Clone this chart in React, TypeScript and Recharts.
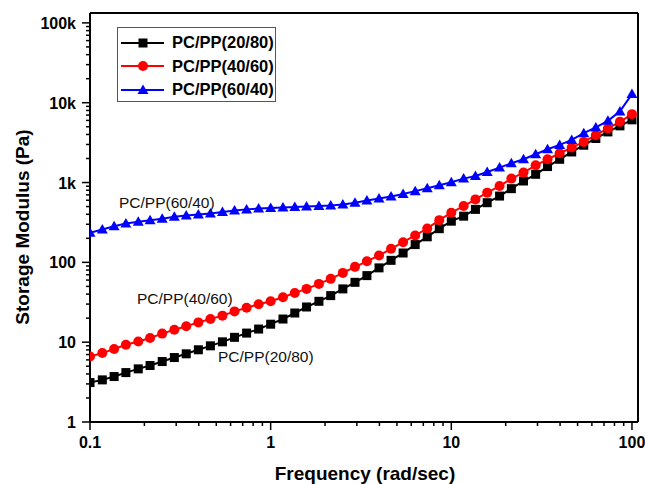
import { LineChart, Line, XAxis, YAxis, Legend, ReferenceLine, Label } from 'recharts'

// angular frequency (rad/sec), 15 points per decade
const frequency = [
  0.1, 0.117, 0.136, 0.158, 0.185, 0.215, 0.251, 0.293, 0.341, 0.398, 0.464, 0.541, 0.631, 0.736, 0.858,
  1, 1.17, 1.36, 1.58, 1.85, 2.15, 2.51, 2.93, 3.41, 3.98, 4.64, 5.41, 6.31, 7.36, 8.58,
  10, 11.7, 13.6, 15.8, 18.5, 21.5, 25.1, 29.3, 34.1, 39.8, 46.4, 54.1, 63.1, 73.6, 85.8, 100,
]

// storage modulus G' (Pa)
const pcpp2080 = [
  3.12, 3.37, 3.71, 4.16, 4.63, 5.1, 5.72, 6.42, 7.15, 8.03, 9.0, 10.1, 11.5, 13.0, 14.6,
  16.8, 19.5, 23.2, 27.6, 32.5, 38.3, 46.5, 56.2, 68.2, 85.3, 106, 131, 167, 209, 264,
  328, 379, 461, 559, 677, 838, 1045, 1268, 1585, 1955, 2415, 2933, 3563, 4306, 5128, 6100,
]
const pcpp4060 = [
  6.61, 7.3, 8.2, 9.27, 10.2, 11.3, 12.8, 14.3, 15.8, 17.7, 19.5, 21.5, 24.3, 27.0, 29.8,
  32.5, 36.5, 41.4, 46.5, 53.7, 62.1, 73.8, 87.8, 103, 122, 148, 179, 217, 266, 338,
  419, 507, 615, 747, 904, 1120, 1331, 1644, 1955, 2326, 2744, 3228, 3918, 4755, 5755, 7190,
]
const pcpp6040 = [
  235, 258, 284, 307, 323, 338, 352, 373, 387, 399, 410, 426, 447, 461, 472,
  480, 486, 493, 500, 507, 517, 532, 559, 595, 632, 670, 720, 780, 850, 925,
  1010, 1120, 1207, 1355, 1539, 1742, 1955, 2260, 2610, 2958, 3420, 4150, 4895, 5925, 7780, 12820,
]

const xMajor = [0.1, 1, 10, 100]
const yMajor = [1, 10, 100, 1000, 10000, 100000]
const yTickText = ['1', '10', '100', '1k', '10k', '100k']
const minorSteps = [2, 3, 4, 5, 6, 7, 8, 9]

const xDomain = [0.1, 108]
const yDomain = [1, 133000]

const xTicks = xMajor.flatMap((m, i) => (i < xMajor.length - 1 ? [m, ...minorSteps.map((s) => m * s)] : [m]))
const yTicks = yMajor.flatMap((m, i) => (i < yMajor.length - 1 ? [m, ...minorSteps.map((s) => m * s)] : [m]))

const series = [
  { key: 'a', name: 'PC/PP(20/80)', color: '#000000', shape: 'square', values: pcpp2080 },
  { key: 'b', name: 'PC/PP(40/60)', color: '#ff0000', shape: 'circle', values: pcpp4060 },
  { key: 'c', name: 'PC/PP(60/40)', color: '#0000ff', shape: 'triangle', values: pcpp6040 },
]

const data = frequency.map((f, i) => ({ freq: f, a: pcpp2080[i], b: pcpp4060[i], c: pcpp6040[i] }))

const isMajor = (list: number[], v: number) => list.findIndex((m) => Math.abs(m - v) / m < 1e-6)

function marker(shape: string, cx: number, cy: number, color: string, key?: string) {
  if (shape === 'square') return <rect key={key} x={cx - 4.5} y={cy - 4.5} width={9} height={9} fill={color} />
  if (shape === 'circle') return <circle key={key} cx={cx} cy={cy} r={5} fill={color} />
  return <path key={key} d={`M${cx},${cy - 5.5}L${cx + 5.5},${cy + 4}L${cx - 5.5},${cy + 4}Z`} fill={color} />
}

const XTick = (props: any) => {
  const { x, y, payload } = props
  const idx = isMajor(xMajor, payload.value)
  return (
    <g>
      <line x1={x} x2={x} y1={y} y2={y + (idx >= 0 ? 8 : 4)} stroke="#000" strokeWidth={1.5} />
      {idx >= 0 && (
        <text x={x} y={y + 26} textAnchor="middle" fontSize={16} fontWeight="bold" fill="#000">
          {String(xMajor[idx])}
        </text>
      )}
    </g>
  )
}

const YTick = (props: any) => {
  const { x, y, payload } = props
  const idx = isMajor(yMajor, payload.value)
  return (
    <g>
      <line x1={x - (idx >= 0 ? 8 : 4)} x2={x} y1={y} y2={y} stroke="#000" strokeWidth={1.5} />
      {idx >= 0 && (
        <text x={x - 14} y={y + 6} textAnchor="end" fontSize={16} fontWeight="bold" fill="#000">
          {yTickText[idx]}
        </text>
      )}
    </g>
  )
}

const LegendBox = () => (
  <div style={{ border: '1px solid #555', width: 157, height: 70, background: '#fff', paddingTop: 3 }}>
    {series.map((s) => (
      <div key={s.key} style={{ display: 'flex', alignItems: 'center', height: 23.5 }}>
        <svg width={54} height={20} style={{ flex: 'none' }}>
          <line x1={3} x2={46} y1={10} y2={10} stroke={s.color} strokeWidth={2} />
          {marker(s.shape, 25, 10, s.color)}
        </svg>
        <span style={{ fontWeight: 'bold', fontSize: 16.5, color: '#000', whiteSpace: 'nowrap' }}>{s.name}</span>
      </div>
    ))}
  </div>
)

const note = { position: 'absolute' as const, fontSize: 15.5, color: '#111', lineHeight: '16px', whiteSpace: 'nowrap' as const }

export default function App() {
  return (
    <div
      style={{
        position: 'absolute',
        left: 0,
        top: 0,
        width: 645,
        height: 484,
        background: '#fff',
        fontFamily: '"Liberation Sans", Arial, sans-serif',
      }}
    >
      <LineChart width={645} height={484} data={data} margin={{ top: 13, right: 7, bottom: 0, left: 0 }}>
        <XAxis
          dataKey="freq"
          type="number"
          scale="log"
          domain={xDomain}
          allowDataOverflow
          ticks={xTicks}
          interval={0}
          tick={XTick}
          tickSize={0}
          tickMargin={0}
          tickLine={false}
          axisLine={{ stroke: '#000', strokeWidth: 2 }}
          height={62}
        >
          <Label
            content={(p: any) => (
              <text
                x={p.viewBox.x + p.viewBox.width / 2 + 1}
                y={480}
                textAnchor="middle"
                fontSize={19}
                fontWeight="bold"
                fill="#000"
              >
                Frequency (rad/sec)
              </text>
            )}
          />
        </XAxis>
        <YAxis
          type="number"
          scale="log"
          domain={yDomain}
          allowDataOverflow
          ticks={yTicks}
          interval={0}
          tick={YTick}
          tickSize={0}
          tickMargin={0}
          tickLine={false}
          axisLine={{ stroke: '#000', strokeWidth: 2 }}
          width={90}
        >
          <Label
            content={() => (
              <text
                x={29}
                y={227}
                transform="rotate(-90 29 227)"
                textAnchor="middle"
                fontSize={19}
                fontWeight="bold"
                fill="#000"
              >
                Storage Modulus (Pa)
              </text>
            )}
          />
        </YAxis>
        <ReferenceLine x={xDomain[1]} stroke="#000" strokeWidth={2} />
        <ReferenceLine y={yDomain[1]} stroke="#000" strokeWidth={2} />
        {series.map((s) => (
          <Line
            key={s.key}
            dataKey={s.key}
            name={s.name}
            type="linear"
            stroke={s.color}
            strokeWidth={2}
            isAnimationActive={false}
            dot={(p: any) => marker(s.shape, p.cx, p.cy, s.color, `${s.key}-${p.index}`)}
            activeDot={false}
          />
        ))}
        <Legend
          layout="vertical"
          align="center"
          verticalAlign="middle"
          content={LegendBox}
          wrapperStyle={{ left: 117, top: 27, width: 159, height: 74 }}
        />
      </LineChart>
      <div style={{ ...note, left: 119, top: 195 }}>PC/PP(60/40)</div>
      <div style={{ ...note, left: 137, top: 291 }}>PC/PP(40/60)</div>
      <div style={{ ...note, left: 218, top: 349 }}>PC/PP(20/80)</div>
    </div>
  )
}
